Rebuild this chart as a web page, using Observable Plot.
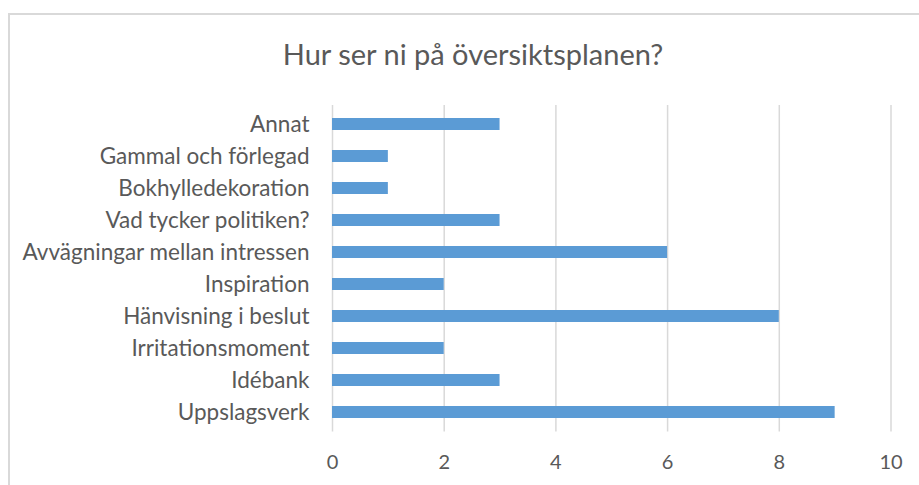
<!DOCTYPE html>
<html>
<head>
<meta charset="utf-8">
<script src="https://cdn.jsdelivr.net/npm/d3@7"></script>
<script src="https://cdn.jsdelivr.net/npm/@observablehq/plot@0.6"></script>
<style>
  body { margin: 0; background: #fff; }
  #wrap { position: relative; width: 919px; height: 485px; overflow: hidden; font-family: Lato, "Open Sans", sans-serif; }
  #frame { position: absolute; left: 8px; top: 13px; width: 930px; height: 500px; border-left: 2px solid #d9d9d9; border-top: 2px solid #d9d9d9; }
  #title { position: absolute; left: 0; width: 946px; top: 37px; text-align: center; font-size: 29px; color: #595959; line-height: 1.2; }
  #chart { position: absolute; left: 0; top: 0; }
</style>
</head>
<body>
<div id="wrap">
  <div id="frame"></div>
  <div id="title">Hur ser ni på översiktsplanen?</div>
  <div id="chart"></div>
</div>
<script>
const categories = ["Annat", "Gammal och förlegad", "Bokhylledekoration", "Vad tycker politiken?", "Avvägningar mellan intressen", "Inspiration", "Hänvisning i beslut", "Irritationsmoment", "Idébank", "Uppslagsverk"];
const values = [3, 1, 1, 3, 6, 2, 8, 2, 3, 9];
const xTicks = [0, 2, 4, 6, 8, 10];

const data = categories.map((c, i) => ({category: c, value: values[i]}));

const plot = Plot.plot({
  width: 919,
  height: 485,
  marginLeft: 332,
  marginRight: 28.5,
  marginTop: 105,
  marginBottom: 53.5,
  style: { fontFamily: "Lato, 'Open Sans', sans-serif", background: "transparent", color: "#595959" },
  x: { domain: [0, 10], ticks: xTicks, label: null },
  y: { domain: categories, paddingInner: 0.64, paddingOuter: 0.34, label: null },
  marks: [
    Plot.gridX(xTicks, { stroke: "#d9d9d9", strokeOpacity: 1, strokeWidth: 1.5 }),
    Plot.barX(data, { x: "value", y: "category", fill: "#5B9BD5" }),
    Plot.axisX({ ticks: xTicks, tickSize: 0, tickPadding: 23, fontSize: 20, fill: "#595959", label: null }),
    Plot.axisY({ tickSize: 0, tickPadding: 23, fontSize: 22.5, fill: "#595959", label: null })
  ]
});
document.getElementById("chart").appendChild(plot);
</script>
</body>
</html>
